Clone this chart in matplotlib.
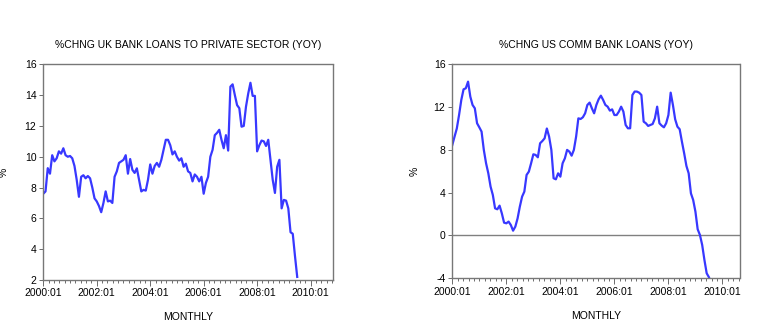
import matplotlib
matplotlib.use("Agg")
import matplotlib.pyplot as plt
import numpy as np
from matplotlib.ticker import MultipleLocator, FixedLocator

plt.rcParams['font.family'] = ['Liberation Sans', 'DejaVu Sans']

uk_loans = [7.6, 7.75, 9.26, 8.9, 10.1, 9.7, 9.9, 10.35, 10.2, 10.55, 10.1, 10.0,
            10.05, 9.9, 9.4, 8.5, 7.4, 8.7, 8.8, 8.6, 8.75, 8.6, 8.0, 7.3,
            7.1, 6.8, 6.4, 7.0, 7.75, 7.1, 7.15, 7.0, 8.7, 9.05, 9.6, 9.7,
            9.8, 10.1, 8.9, 9.85, 9.15, 8.95, 9.25, 8.5, 7.75, 7.85, 7.8, 8.5,
            9.5, 8.9, 9.4, 9.6, 9.35, 9.8, 10.45, 11.1, 11.1, 10.75, 10.15, 10.35,
            10.0, 9.75, 9.9, 9.35, 9.55, 9.05, 8.95, 8.4, 8.85, 8.7, 8.4, 8.7,
            7.6, 8.3, 8.7, 10.0, 10.45, 11.4, 11.55, 11.75, 11.1, 10.55, 11.4, 10.4,
            14.55, 14.7, 14.0, 13.35, 13.15, 11.95, 12.0, 13.25, 14.1, 14.8, 13.95, 13.95,
            10.35, 10.75, 11.05, 11.0, 10.7, 11.1, 9.8, 8.5, 7.65, 9.35, 9.8, 6.65,
            7.2, 7.15, 6.65, 5.1, 5.0, 3.55, 2.2]

us_loans = [8.46, 9.24, 10.0, 11.26, 12.67, 13.66, 13.76, 14.38, 12.98, 12.2, 11.89, 10.49,
            10.11, 9.71, 8.0, 6.75, 5.81, 4.57, 3.79, 2.54, 2.45, 2.79, 2.07, 1.2,
            1.14, 1.3, 0.98, 0.45, 0.83, 1.6, 2.7, 3.63, 4.1, 5.66, 5.97, 6.75,
            7.59, 7.53, 7.31, 8.62, 8.83, 9.08, 10.0, 9.24, 8.0, 5.35, 5.25, 5.81,
            5.5, 6.75, 7.21, 8.0, 7.84, 7.46, 8.0, 9.24, 10.95, 10.89, 11.05, 11.42,
            12.2, 12.42, 11.89, 11.42, 12.2, 12.73, 13.07, 12.67, 12.2, 12.04, 11.67, 11.79,
            11.26, 11.26, 11.58, 12.04, 11.58, 10.33, 10.02, 10.02, 13.13, 13.45, 13.45, 13.35,
            13.13, 10.64, 10.49, 10.24, 10.33, 10.42, 10.95, 12.04, 10.49, 10.27, 10.11, 10.49,
            11.26, 13.35, 12.2, 10.86, 10.17, 9.93, 8.77, 7.68, 6.5, 5.81, 3.94, 3.32,
            2.23, 0.58, 0.05, -0.88, -2.29, -3.53, -3.9]

year_ticks = [2000, 2002, 2004, 2006, 2008, 2010]
year_labels = ["2000:01", "2002:01", "2004:01", "2006:01", "2008:01", "2010:01"]

uk_title = "%CHNG UK BANK LOANS TO PRIVATE SECTOR (YOY)"
us_title = "%CHNG US COMM BANK LOANS (YOY)"

W, H = 758, 334
fig = plt.figure(figsize=(W / 100, H / 100), dpi=100)

def box(l, t, r, b):
    return [l / W, 1 - b / H, (r - l) / W, (b - t) / H]

line_color = '#3838ff'
fs = 7.5

def style(ax, yticks, ylim, xmax):
    ax.set_ylim(*ylim)
    ax.set_xlim(2000, xmax)
    ax.yaxis.set_major_locator(FixedLocator(yticks))
    ax.set_yticklabels([str(v) for v in yticks], fontsize=fs)
    ax.xaxis.set_major_locator(FixedLocator(year_ticks))
    ax.set_xticklabels(year_labels, fontsize=fs)
    ax.xaxis.set_minor_locator(MultipleLocator(0.2))
    ax.tick_params(axis='x', which='major', length=4, width=0.6, color='#555555', direction='out', pad=2)
    ax.tick_params(axis='x', which='minor', length=2.5, width=0.6, color='#555555', direction='out')
    ax.tick_params(axis='y', which='major', length=3, width=0.6, color='#555555', direction='out', pad=2)
    for s in ax.spines.values():
        s.set_linestyle((0, (1, 1)))
        s.set_color('#777777')
        s.set_linewidth(1.0)
    ax.set_ylabel('%', fontsize=fs)
    ax.set_xlabel('MONTHLY', fontsize=fs, labelpad=10)

ax1 = fig.add_axes(box(43.3, 64.3, 333.3, 280))
t1 = 2000 + np.arange(len(uk_loans)) / 12.0
ax1.plot(t1, uk_loans, color=line_color, lw=1.6)
style(ax1, [2, 4, 6, 8, 10, 12, 14, 16], (2, 16), 2010.85)
ax1.set_title(uk_title, fontsize=fs, pad=12)
ax1.yaxis.set_label_coords(-0.12, 0.5)

ax2 = fig.add_axes(box(452.3, 64.3, 740, 278.3))
t2 = 2000 + np.arange(len(us_loans)) / 12.0
ax2.axhline(0, color='#808080', lw=1.0, zorder=1)
ax2.plot(t2, us_loans, color=line_color, lw=1.6, zorder=2)
style(ax2, [-4, 0, 4, 8, 12, 16], (-4, 16), 2010.65)
ax2.set_title(us_title, fontsize=fs, pad=12)
ax2.yaxis.set_label_coords(-0.115, 0.5)

fig.savefig("out.png", dpi=100)
